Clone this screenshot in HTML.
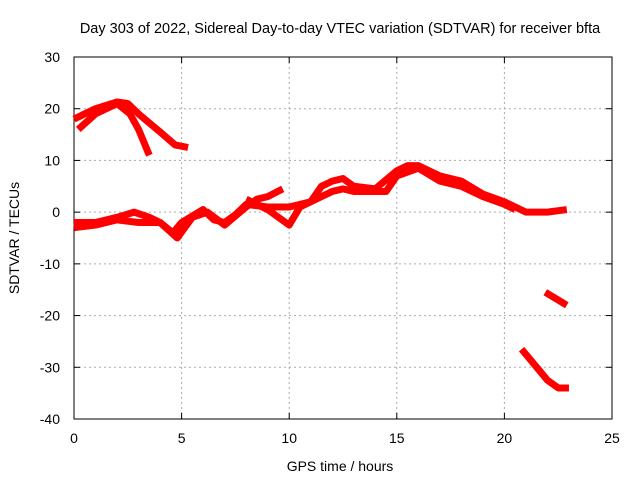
<!DOCTYPE html><html><head><meta charset="utf-8"><style>body{margin:0;background:#fff}svg{display:block;font-family:"Liberation Sans",sans-serif}</style></head><body>
<svg id="c" width="640" height="480"></svg>
<script>
const xTicks=[0,5,10,15,20,25];
const yTicks=[30,20,10,0,-10,-20,-30,-40];
const seriesA=[[0,18],[1,20],[2,21.3],[2.5,21],[3,19],[4,15.5],[4.7,13],[5.3,12.5]];
const seriesB=[[0.2,16],[1,19],[2,21],[2.6,19],[3,16],[3.5,11]];
const seriesMain=[[0,-2],[1,-2],[2,-1],[2.8,0],[3.5,-1],[4,-2],[4.6,-4],[5,-2],[6,0.5],[6.5,-1.5],[7,-2],[7.5,-0.5],[8,1.5],[9,1],[10,1],[11,2],[11.5,5],[12,6],[12.5,6.5],[13,5],[14,4.5],[15,8],[15.5,9],[16,9],[17,7],[18,6],[19,3.5],[20,2],[21,0],[22,0],[22.9,0.5]];
const seriesMain2=[[0,-3],[1,-2.5],[2,-1.5],[3,-2],[4,-2],[4.8,-5],[5.5,-1],[6.2,0],[7,-2.5],[8,1],[8.5,2.5],[9,3],[9.7,4.5]];
const seriesMain3=[[8,2.5],[9,0.5],[10,-2.5],[10.5,1],[11.5,3],[12,4],[12.5,4.5],[13,4],[14.5,4],[15,7],[16,8.5],[17,6],[18,5],[19,3],[20,1.5],[20.5,0.5]];
const seriesC=[[20.8,-26.5],[21.5,-30],[22,-32.5],[22.5,-34],[23,-34]];
const seriesD=[[21.9,-15.5],[22.5,-17],[22.9,-18]];
const L=74,R=612,T=57,B=419;
const X=v=>L+(v/25)*(R-L), Y=v=>T+(30-v)/70*(B-T);
const s=document.getElementById('c');const ns='http://www.w3.org/2000/svg';
function mk(t,a,txt){const e=document.createElementNS(ns,t);for(const k in a)e.setAttribute(k,a[k]);if(txt!=null)e.textContent=txt;s.appendChild(e);return e;}
xTicks.forEach(v=>{if(v>0&&v<25){const g=mk('line',{x1:X(v),x2:X(v),y1:T,y2:B,stroke:'#aaa','stroke-dasharray':'2,3'});}
const t=mk('text',{x:X(v),y:443,'text-anchor':'middle','font-size':14},v);
mk('line',{x1:X(v),x2:X(v),y1:B,y2:B-6,stroke:'#000'});mk('line',{x1:X(v),x2:X(v),y1:T,y2:T+6,stroke:'#000'});});
yTicks.forEach(v=>{if(v<30&&v>-40){const g=mk('line',{x1:L,x2:R,y1:Y(v),y2:Y(v),stroke:'#aaa','stroke-dasharray':'2,3'});}
const t=mk('text',{x:60,y:Y(v)+5,'text-anchor':'end','font-size':14},v);
mk('line',{x1:L,x2:L+6,y1:Y(v),y2:Y(v),stroke:'#000'});mk('line',{x1:R,x2:R-6,y1:Y(v),y2:Y(v),stroke:'#000'});});
const f=mk('rect',{x:L,y:T,width:R-L,height:B-T,fill:'none',stroke:'#000'});
[seriesA,seriesB,seriesMain,seriesMain2,seriesMain3,seriesC,seriesD].forEach(d=>{const p=mk('polyline',{points:d.map(q=>X(q[0])+','+Y(q[1])).join(' '),fill:'none',stroke:'#f00','stroke-width':7,'stroke-linejoin':'round'});});
let t=mk('text',{x:340,y:33,'text-anchor':'middle','font-size':14.5},'Day 303 of 2022, Sidereal Day-to-day VTEC variation (SDTVAR) for receiver bfta');
t=mk('text',{x:340,y:471,'text-anchor':'middle','font-size':14},'GPS time / hours');
t=mk('text',{x:19,y:238,'text-anchor':'middle','font-size':14,transform:'rotate(-90 19 238)'},'SDTVAR / TECUs');
</script></body></html>
